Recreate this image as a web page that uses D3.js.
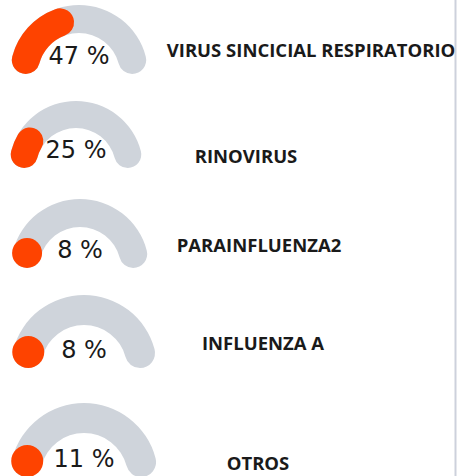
<!DOCTYPE html>
<html>
<head>
<meta charset="utf-8">
<script src="https://cdn.jsdelivr.net/npm/d3@7"></script>
<style>
  html, body { margin: 0; padding: 0; background: #fff; }
  svg { display: block; }
</style>
</head>
<body>
<div id="chart"></div>
<script>
// datos
const labels = ["VIRUS SINCICIAL RESPIRATORIO", "RINOVIRUS", "PARAINFLUENZA2", "INFLUENZA A", "OTROS"];
const values = [47, 25, 8, 8, 11];

// layout de cada fila (centro del medidor, radio, etiqueta)
const rowX = [79, 76, 80, 84, 84];
const rowY = [74, 168, 268, 368, 477];
const rowR = [69, 67, 69, 73, 74];
const labelX = [311, 246, 259, 263, 258];
const labelY = [57, 163, 252, 350, 470];

const width = 459, height = 476;
const grey = "#cfd4db", red = "#fe4300";

const svg = d3.select("#chart").append("svg")
    .attr("width", width)
    .attr("height", height);

// linea vertical a la derecha
svg.append("line")
    .attr("x1", 455.5).attr("x2", 455.5)
    .attr("y1", 0).attr("y2", height)
    .style("stroke", "#cdd1dc")
    .style("stroke-width", 2);

// angulo del medidor: 0..100 -> semicirculo
const angle = d3.scaleLinear().domain([0, 100]).range([-Math.PI / 2, Math.PI / 2]);

values.forEach((v, i) => {
    const cx = rowX[i], cy = rowY[i], R = rowR[i];
    const t = Math.round(R * 0.41);
    const r = R - t;
    const g = svg.append("g").attr("transform", `translate(${cx},${cy})`);

    const arc = d3.arc()
        .innerRadius(r)
        .outerRadius(R)
        .cornerRadius(t / 2);

    // fondo gris
    g.append("path")
        .attr("d", arc({ startAngle: angle(0), endAngle: angle(100) }))
        .style("fill", grey);

    // valor
    const mid = R - t / 2;
    const capAngle = Math.asin((t / 2) / mid);
    const span = angle(v) - angle(0);
    if (span > 2 * capAngle) {
        g.append("path")
            .attr("d", arc({ startAngle: angle(0), endAngle: angle(v) }))
            .style("fill", red);
    } else {
        // valor muy pequeño: solo un punto
        const rr = t / 2 + 1;
        const a = Math.asin(rr / mid);
        g.append("circle")
            .attr("cx", -mid * Math.cos(a))
            .attr("cy", -mid * Math.sin(a))
            .attr("r", rr)
            .style("fill", red);
    }

    // porcentaje
    g.append("text")
        .attr("x", 0)
        .attr("y", -10)
        .attr("text-anchor", "middle")
        .style("font-family", "'DejaVu Sans', sans-serif")
        .style("font-size", "24px")
        .style("fill", "#1a1a1a")
        .text(v + " %");

    // etiqueta
    svg.append("text")
        .attr("x", labelX[i])
        .attr("y", labelY[i])
        .attr("text-anchor", "middle")
        .style("font-family", "'Open Sans', sans-serif")
        .style("font-weight", "bold")
        .style("font-size", "18.5px")
        .style("fill", "#1a1a1a")
        .text(labels[i]);
});
</script>
</body>
</html>
